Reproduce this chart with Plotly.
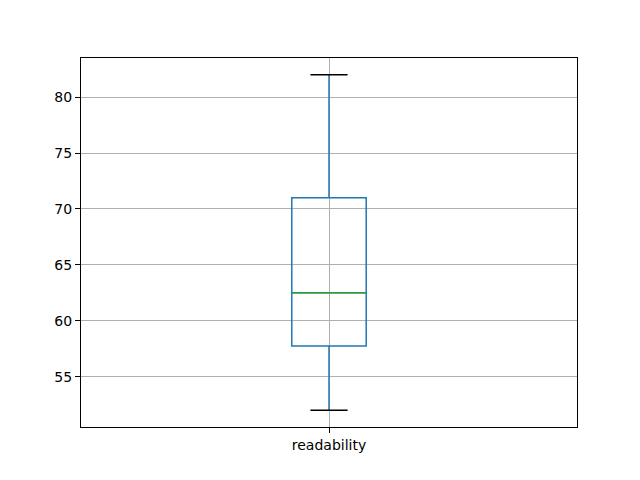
import plotly.graph_objects as go

categories = ["readability"]
positions = [1]
q1_vals = [57.75]
median_vals = [62.5]
q3_vals = [71.0]
lower_vals = [52.0]
upper_vals = [82.0]
y_ticks = [55, 60, 65, 70, 75, 80]

BOX_W = 0.15
CAP_W = BOX_W / 2
blue = "#1f77b4"

fig = go.Figure()
fig.add_trace(go.Box(
    x=positions, q1=q1_vals, median=median_vals, q3=q3_vals,
    lowerfence=lower_vals, upperfence=upper_vals,
    width=BOX_W, whiskerwidth=0,
    line=dict(color=blue, width=1.5),
    fillcolor="rgba(0,0,0,0)", boxpoints=False, hoverinfo="skip",
    showlegend=False,
))
for p, lo, hi, md in zip(positions, lower_vals, upper_vals, median_vals):
    for v in (lo, hi):
        fig.add_trace(go.Scatter(
            x=[p - CAP_W / 2, p + CAP_W / 2], y=[v, v], mode="lines",
            line=dict(color="black", width=1.5), showlegend=False, hoverinfo="skip"))
    fig.add_trace(go.Scatter(
        x=[p - BOX_W / 2, p + BOX_W / 2], y=[md, md], mode="lines",
        line=dict(color="#2ca02c", width=1.5), showlegend=False, hoverinfo="skip"))

ymin, ymax = min(lower_vals), max(upper_vals)
pad = (ymax - ymin) * 0.05

fig.update_layout(
    width=640, height=480,
    margin=dict(l=73, r=71, t=50, b=61),
    paper_bgcolor="white", plot_bgcolor="white",
    font=dict(family="DejaVu Sans", size=14, color="black"),
    xaxis=dict(
        range=[0.5, 1.5], tickvals=positions, ticktext=categories,
        showgrid=True, gridcolor="#b0b0b0", gridwidth=0.8,
        showline=True, linecolor="black", linewidth=1, mirror=True,
        ticks="outside", ticklen=5, tickcolor="black", zeroline=False,
    ),
    yaxis=dict(
        range=[ymin - pad, ymax + pad], tickvals=y_ticks,
        showgrid=True, gridcolor="#b0b0b0", gridwidth=0.8,
        showline=True, linecolor="black", linewidth=1, mirror=True,
        ticks="outside", ticklen=5, tickcolor="black", zeroline=False,
    ),
)
fig.write_html("out.html")
